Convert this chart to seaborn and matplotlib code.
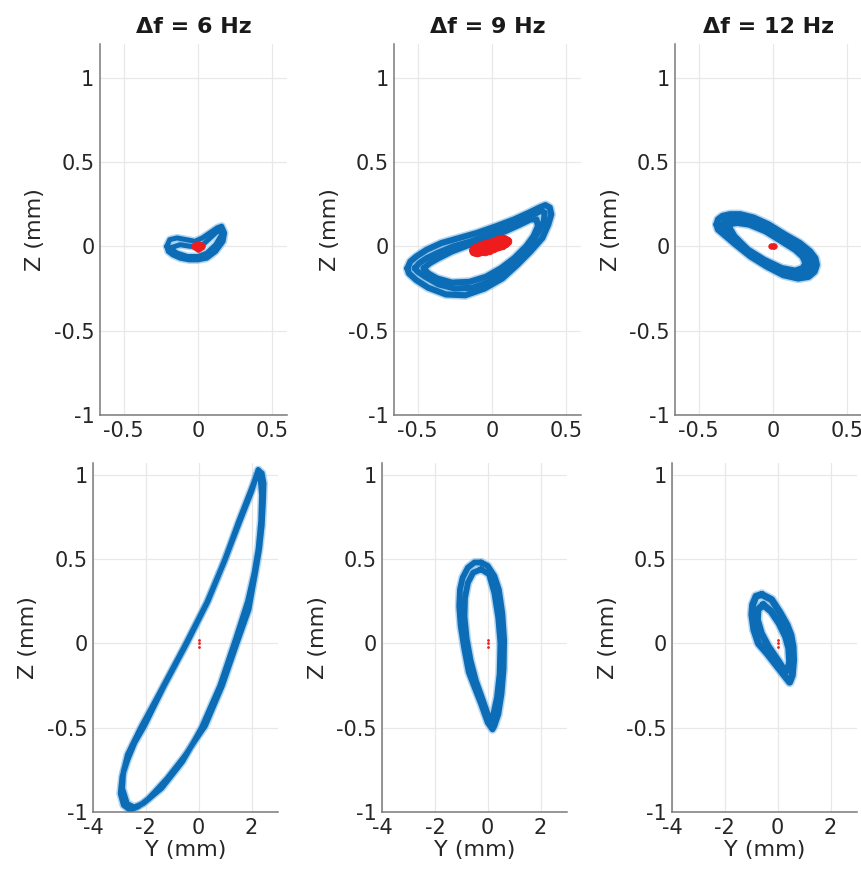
import matplotlib
matplotlib.use("Agg")
import matplotlib.pyplot as plt
import seaborn as sns

# ---- panel titles and tick labels ----
titles = ["\u0394f = 6 Hz", "\u0394f = 9 Hz", "\u0394f = 12 Hz"]
upper_xticks = [-0.5, 0, 0.5]
upper_xticklabels = ["-0.5", "0", "0.5"]
lower_xticks = [-4, -2, 0, 2]
lower_xticklabels = ["-4", "-2", "0", "2"]
zticks = [-1, -0.5, 0, 0.5, 1]
zticklabels = ["-1", "-0.5", "0", "0.5", "1"]

# ---- upper row, 6 Hz: orbit traces (Y, Z in mm) ----
u6_a_y = [-0.21, -0.19, -0.14, -0.08, -0.02, 0.03, 0.08, 0.13, 0.16, 0.18, 0.17, 0.12, 0.06, 0.0, -0.06, -0.12, -0.17, -0.2, -0.21]
u6_a_z = [0.0, 0.04, 0.05, 0.04, 0.03, 0.05, 0.08, 0.11, 0.12, 0.08, 0.03, -0.03, -0.07, -0.08, -0.08, -0.07, -0.05, -0.03, 0.0]
u6_b_y = [-0.19, -0.12, -0.05, 0.02, 0.07, 0.12, 0.15, 0.16, 0.12, 0.06, 0.0, -0.07, -0.14, -0.19]
u6_b_z = [-0.01, 0.01, 0.0, 0.0, 0.04, 0.08, 0.1, 0.07, 0.01, -0.04, -0.06, -0.06, -0.04, -0.01]
u6_ref_y = [-0.02, 0.0, 0.02, 0.0, 0.01]
u6_ref_z = [0.0, 0.01, 0.0, -0.01, 0.005]

# ---- upper row, 9 Hz ----
u9_a_y = [-0.57, -0.55, -0.51, -0.44, -0.34, -0.22, -0.1, 0.03, 0.15, 0.25, 0.32, 0.36, 0.39, 0.4, 0.38, 0.34, 0.26, 0.17, 0.07, -0.05, -0.18, -0.31, -0.43, -0.51, -0.56, -0.57]
u9_a_z = [-0.13, -0.09, -0.06, -0.02, 0.02, 0.05, 0.08, 0.12, 0.16, 0.2, 0.23, 0.245, 0.23, 0.19, 0.13, 0.05, -0.03, -0.11, -0.19, -0.25, -0.29, -0.285, -0.245, -0.2, -0.16, -0.13]
u9_b_y = [-0.52, -0.49, -0.44, -0.37, -0.26, -0.14, -0.02, 0.1, 0.2, 0.28, 0.33, 0.355, 0.35, 0.31, 0.25, 0.17, 0.08, -0.02, -0.13, -0.25, -0.36, -0.45, -0.5, -0.52]
u9_b_z = [-0.13, -0.1, -0.07, -0.04, 0.0, 0.03, 0.07, 0.11, 0.15, 0.19, 0.21, 0.2, 0.15, 0.08, 0.0, -0.08, -0.15, -0.21, -0.245, -0.25, -0.225, -0.18, -0.15, -0.13]
u9_c_y = [-0.46, -0.42, -0.36, -0.27, -0.15, -0.03, 0.09, 0.19, 0.26, 0.3, 0.31, 0.28, 0.23, 0.15, 0.06, -0.04, -0.15, -0.27, -0.37, -0.43, -0.46]
u9_c_z = [-0.13, -0.1, -0.07, -0.03, 0.01, 0.05, 0.09, 0.13, 0.16, 0.16, 0.12, 0.06, 0.0, -0.07, -0.13, -0.18, -0.21, -0.215, -0.19, -0.16, -0.13]
u9_ref_y = [-0.12, -0.1, -0.08, -0.05, -0.02, 0.01, 0.04, 0.07, 0.09, 0.1, 0.08, 0.05, 0.02, -0.01, -0.04, -0.07, -0.1, -0.12]
u9_ref_z = [-0.03, -0.035, -0.03, -0.025, -0.02, -0.01, 0.0, 0.01, 0.02, 0.03, 0.04, 0.035, 0.025, 0.015, 0.01, 0.0, -0.01, -0.02]

# ---- upper row, 12 Hz ----
u12_a_y = [-0.38, -0.37, -0.34, -0.29, -0.22, -0.13, -0.03, 0.08, 0.18, 0.25, 0.285, 0.295, 0.28, 0.24, 0.17, 0.07, -0.04, -0.15, -0.25, -0.33, -0.37, -0.38]
u12_a_z = [0.13, 0.16, 0.18, 0.19, 0.19, 0.17, 0.13, 0.07, 0.02, -0.03, -0.07, -0.11, -0.15, -0.18, -0.19, -0.17, -0.12, -0.06, 0.01, 0.07, 0.1, 0.13]
u12_b_y = [-0.34, -0.32, -0.28, -0.22, -0.14, -0.04, 0.07, 0.16, 0.22, 0.255, 0.255, 0.23, 0.17, 0.07, -0.04, -0.15, -0.25, -0.31, -0.34]
u12_b_z = [0.13, 0.15, 0.165, 0.17, 0.15, 0.11, 0.05, 0.0, -0.04, -0.08, -0.12, -0.15, -0.17, -0.15, -0.1, -0.04, 0.03, 0.08, 0.13]
u12_c_y = [-0.3, -0.28, -0.24, -0.16, -0.05, 0.06, 0.15, 0.2, 0.22, 0.2, 0.15, 0.06, -0.06, -0.17, -0.26, -0.3]
u12_c_z = [0.12, 0.135, 0.14, 0.13, 0.09, 0.03, -0.02, -0.06, -0.1, -0.13, -0.145, -0.13, -0.08, -0.02, 0.06, 0.12]
u12_ref_y = [-0.01, 0.0, 0.01]
u12_ref_z = [0.0, 0.0, 0.0]

# ---- lower row, 6 Hz ----
l6_a_y = [2.25, 2.4, 2.47, 2.45, 2.4, 2.3, 2.15, 1.9, 1.45, 0.9, 0.25, -0.5, -1.2, -1.9, -2.3, -2.6, -2.85, -2.97, -2.9, -2.68, -2.42, -2.05, -1.3, -0.45, 0.35, 1.0, 1.5, 1.9, 2.1, 2.25]
l6_a_z = [1.03, 1.01, 0.95, 0.85, 0.7, 0.56, 0.42, 0.2, 0.0, -0.25, -0.49, -0.66, -0.8, -0.92, -0.97, -0.99, -0.96, -0.89, -0.79, -0.69, -0.59, -0.49, -0.25, 0.0, 0.25, 0.5, 0.72, 0.88, 0.96, 1.03]
l6_b_y = [2.2, 2.33, 2.38, 2.35, 2.25, 2.1, 1.85, 1.4, 0.8, 0.1, -0.6, -1.4, -2.1, -2.45, -2.7, -2.88, -2.85, -2.7, -2.45, -2.2, -1.4, -0.55, 0.3, 0.95, 1.5, 2.0, 2.2]
l6_b_z = [1.0, 0.97, 0.88, 0.73, 0.56, 0.42, 0.25, 0.03, -0.25, -0.5, -0.7, -0.86, -0.95, -0.97, -0.95, -0.86, -0.76, -0.66, -0.58, -0.5, -0.27, -0.02, 0.24, 0.48, 0.7, 0.9, 1.0]
l6_ref_y = [0.0, 0.0, 0.0]
l6_ref_z = [-0.02, 0.0, 0.02]

# ---- lower row, 9 Hz ----
l9_a_y = [-0.25, 0.0, 0.25, 0.42, 0.55, 0.62, 0.6, 0.52, 0.4, 0.25, 0.18, 0.0, -0.25, -0.5, -0.72, -0.9, -1.02, -1.08, -1.05, -0.95, -0.75, -0.5, -0.25]
l9_a_z = [0.48, 0.46, 0.4, 0.32, 0.18, 0.02, -0.15, -0.3, -0.42, -0.49, -0.51, -0.47, -0.36, -0.26, -0.17, -0.02, 0.1, 0.22, 0.32, 0.39, 0.45, 0.48, 0.48]
l9_b_y = [-0.25, 0.05, 0.25, 0.4, 0.48, 0.45, 0.35, 0.2, 0.1, 0.0, -0.2, -0.45, -0.65, -0.8, -0.88, -0.86, -0.75, -0.55, -0.25]
l9_b_z = [0.44, 0.41, 0.3, 0.15, 0.0, -0.18, -0.32, -0.43, -0.46, -0.42, -0.33, -0.22, -0.1, 0.03, 0.16, 0.27, 0.36, 0.42, 0.44]
l9_ref_y = [0.0, 0.0, 0.0]
l9_ref_z = [-0.02, 0.0, 0.02]

# ---- lower row, 12 Hz ----
l12_a_y = [-0.6, -0.23, 0.1, 0.35, 0.5, 0.58, 0.6, 0.55, 0.45, 0.2, 0.0, -0.4, -0.73, -0.9, -0.98, -0.95, -0.82, -0.6]
l12_a_z = [0.29, 0.26, 0.18, 0.11, 0.05, -0.02, -0.1, -0.19, -0.23, -0.18, -0.14, -0.06, 0.0, 0.08, 0.17, 0.23, 0.28, 0.29]
l12_b_y = [-0.55, -0.25, 0.05, 0.3, 0.42, 0.45, 0.38, 0.25, 0.0, -0.35, -0.62, -0.77, -0.75, -0.55]
l12_b_z = [0.23, 0.19, 0.12, 0.04, -0.03, -0.11, -0.16, -0.16, -0.1, -0.02, 0.06, 0.14, 0.2, 0.23]
l12_ref_y = [0.0, 0.0, 0.0]
l12_ref_z = [-0.02, 0.0, 0.02]

orbit_color = "#0c6db6"
fringe_color = "#6aaee3"
ref_color = "#ee1c1c"
grid_color = "#e8e8e8"
spine_color = "#7a7a7a"

sns.set_theme(style="white")
plt.rcParams["font.family"] = ["DejaVu Sans"]

fig = plt.figure(figsize=(8.62, 8.86), dpi=100)

upper_pos = [(0.1160, 0.5316), (0.4571, 0.5316), (0.7831, 0.5316)]
lower_pos = [(0.1079, 0.0835), (0.4432, 0.0835), (0.7796, 0.0835)]
upper_wh = (0.2169, 0.4187)
lower_wh = (0.2146, 0.3939)

panels = [
    dict(pos=upper_pos[0], wh=upper_wh, row="upper", title=titles[0],
         traces=[(u6_a_y, u6_a_z), (u6_b_y, u6_b_z)], lw=3.6,
         ref=(u6_ref_y, u6_ref_z), ref_size=30, ref_lw=0),
    dict(pos=upper_pos[1], wh=upper_wh, row="upper", title=titles[1],
         traces=[(u9_a_y, u9_a_z), (u9_b_y, u9_b_z), (u9_c_y, u9_c_z)], lw=4.4,
         ref=(u9_ref_y, u9_ref_z), ref_size=40, ref_lw=7),
    dict(pos=upper_pos[2], wh=upper_wh, row="upper", title=titles[2],
         traces=[(u12_a_y, u12_a_z), (u12_b_y, u12_b_z), (u12_c_y, u12_c_z)], lw=4.6,
         ref=(u12_ref_y, u12_ref_z), ref_size=16, ref_lw=0),
    dict(pos=lower_pos[0], wh=lower_wh, row="lower", title=None,
         traces=[(l6_a_y, l6_a_z), (l6_b_y, l6_b_z)], lw=3.6,
         ref=(l6_ref_y, l6_ref_z), ref_size=2, ref_lw=0),
    dict(pos=lower_pos[1], wh=lower_wh, row="lower", title=None,
         traces=[(l9_a_y, l9_a_z), (l9_b_y, l9_b_z)], lw=4.2,
         ref=(l9_ref_y, l9_ref_z), ref_size=2, ref_lw=0),
    dict(pos=lower_pos[2], wh=lower_wh, row="lower", title=None,
         traces=[(l12_a_y, l12_a_z), (l12_b_y, l12_b_z)], lw=5.0,
         ref=(l12_ref_y, l12_ref_z), ref_size=2, ref_lw=0),
]

for p in panels:
    ax = fig.add_axes([p["pos"][0], p["pos"][1], p["wh"][0], p["wh"][1]])
    ax.set_axisbelow(True)
    # soft halo under each cycle, then the solid core on top
    for ty, tz in p["traces"]:
        sns.lineplot(x=ty, y=tz, sort=False, estimator=None, ax=ax,
                     color=fringe_color, lw=p["lw"] + 2.2, alpha=0.5,
                     solid_joinstyle="round", solid_capstyle="round")
    for ty, tz in p["traces"]:
        sns.lineplot(x=ty, y=tz, sort=False, estimator=None, ax=ax,
                     color=orbit_color, lw=p["lw"],
                     solid_joinstyle="round", solid_capstyle="round")
    ry, rz = p["ref"]
    if p["ref_lw"]:
        sns.lineplot(x=ry, y=rz, sort=False, estimator=None, ax=ax,
                     color=ref_color, lw=p["ref_lw"], zorder=5,
                     solid_joinstyle="round", solid_capstyle="round")
    sns.scatterplot(x=ry, y=rz, ax=ax, color=ref_color, s=p["ref_size"],
                    edgecolor=ref_color, linewidth=0.5, zorder=6)

    if p["row"] == "upper":
        ax.set_xlim(-0.66, 0.6)
        ax.set_ylim(-1, 1.2)
        ax.set_xticks(upper_xticks)
        ax.set_xticklabels(upper_xticklabels)
        ax.set_xlabel("")
    else:
        ax.set_xlim(-4, 3)
        ax.set_ylim(-1, 1.07)
        ax.set_xticks(lower_xticks)
        ax.set_xticklabels(lower_xticklabels)
        ax.set_xlabel("Y (mm)", fontsize=16, color="#262626", labelpad=2)
    ax.set_yticks(zticks)
    ax.set_yticklabels(zticklabels)
    ax.set_ylabel("Z (mm)", fontsize=16, color="#262626", labelpad=6)
    if p["title"]:
        ax.set_title(p["title"], fontsize=16, fontweight="bold", color="#1a1a1a", pad=8)

    ax.grid(True, color=grid_color, lw=0.9)
    for side in ("top", "right"):
        ax.spines[side].set_visible(False)
    for side in ("left", "bottom"):
        ax.spines[side].set_color(spine_color)
        ax.spines[side].set_linewidth(1.1)
    ax.tick_params(axis="both", labelsize=15, colors="#262626", direction="in",
                   length=3, width=0.8, pad=4)
    ax.tick_params(axis="both", color=spine_color)

fig.savefig("out.png", dpi=100)
